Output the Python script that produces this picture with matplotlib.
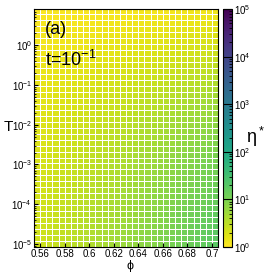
import numpy as np
import matplotlib
matplotlib.use("Agg")
import matplotlib.pyplot as plt
from matplotlib.colors import LogNorm
from matplotlib.ticker import LogLocator

plt.rcParams['font.family'] = ['Liberation Sans', 'DejaVu Sans']
plt.rcParams['mathtext.default'] = 'regular'

# packing fraction (cell centres)
phi = [0.5575, 0.5625, 0.5675, 0.5725, 0.5775, 0.5825, 0.5875, 0.5925, 0.5975, 0.6025,
       0.6075, 0.6125, 0.6175, 0.6225, 0.6275, 0.6325, 0.6375, 0.6425, 0.6475, 0.6525,
       0.6575, 0.6625, 0.6675, 0.6725, 0.6775, 0.6825, 0.6875, 0.6925, 0.6975, 0.7025]
# log10 of temperature (cell centres, bottom to top)
logT = [-5.00, -4.85, -4.70, -4.55, -4.40, -4.25, -4.10, -3.95, -3.80, -3.65,
        -3.50, -3.35, -3.20, -3.05, -2.90, -2.75, -2.60, -2.45, -2.30, -2.15,
        -2.00, -1.85, -1.70, -1.55, -1.40, -1.25, -1.10, -0.95, -0.80, -0.65,
        -0.50, -0.35, -0.20, -0.05, 0.10, 0.25, 0.40, 0.55, 0.70, 0.85]
# read-off factors for log10(eta*)
phi_fac = [0.29, 0.31, 0.33, 0.35, 0.37, 0.39, 0.41, 0.43, 0.45, 0.47,
           0.50, 0.52, 0.54, 0.57, 0.59, 0.62, 0.64, 0.67, 0.70, 0.72,
           0.75, 0.78, 0.81, 0.84, 0.86, 0.89, 0.92, 0.95, 0.97, 1.00]
T_fac = [1.27, 1.26, 1.25, 1.24, 1.22, 1.21, 1.19, 1.17, 1.15, 1.13,
         1.11, 1.09, 1.07, 1.05, 1.03, 1.00, 0.97, 0.94, 0.91, 0.88,
         0.85, 0.82, 0.78, 0.75, 0.71, 0.67, 0.63, 0.59, 0.55, 0.51,
         0.47, 0.43, 0.39, 0.35, 0.31, 0.27, 0.23, 0.19, 0.15, 0.12]

eta = 10 ** np.outer(T_fac, phi_fac)

phi = np.array(phi)
logT = np.array(logT)
dphi = phi[1] - phi[0]
dlog = logT[1] - logT[0]
xe = np.append(phi - dphi / 2, phi[-1] + dphi / 2)
ye = 10 ** np.append(logT - dlog / 2, logT[-1] + dlog / 2)

fig = plt.figure(figsize=(2.66, 2.74), dpi=100)
ax = fig.add_axes([0.128, 0.0985, 0.692, 0.868])
cax = fig.add_axes([0.838, 0.0985, 0.034, 0.868])

mesh = ax.pcolormesh(xe, ye, eta, cmap='viridis_r', norm=LogNorm(1, 1e5),
                     edgecolors='white', linewidth=0.5)
ax.set_yscale('log')
ax.set_xlim(0.555, 0.705)
ax.set_ylim(10 ** -5.075, 10 ** 0.905)
ax.set_xticks([0.56, 0.58, 0.6, 0.62, 0.64, 0.66, 0.68, 0.7])
ax.set_xticklabels(['0.56', '0.58', '0.6', '0.62', '0.64', '0.66', '0.68', '0.7'])
ax.yaxis.set_major_locator(LogLocator(base=10, numticks=10))
ax.yaxis.set_minor_locator(LogLocator(base=10, subs=np.arange(2, 10), numticks=10))
ax.tick_params(which='both', direction='in', labelsize=7, pad=1.5)
ax.tick_params(which='major', length=3)
ax.tick_params(which='minor', length=1.5)
for s in ax.spines.values():
    s.set_linewidth(0.8)

cb = fig.colorbar(mesh, cax=cax)
cb.ax.tick_params(which='both', direction='in', labelsize=7, pad=1.5)
cb.ax.tick_params(which='major', length=6.5)
cb.ax.tick_params(which='minor', length=2)
cb.outline.set_linewidth(0.8)

ax.text(0.06, 0.95, '(a)', transform=ax.transAxes, fontsize=13, va='top')
ax.text(0.06, 0.83, r't=10$^{-1}$', transform=ax.transAxes, fontsize=13, va='top')
fig.text(0.012, 0.535, 'T', fontsize=11, va='center')
fig.text(0.49, 0.008, 'ϕ', fontsize=9, ha='center', va='bottom')
fig.text(0.925, 0.50, r'$\eta^*$', fontsize=13, va='center')

fig.savefig('out.png', dpi=100)
